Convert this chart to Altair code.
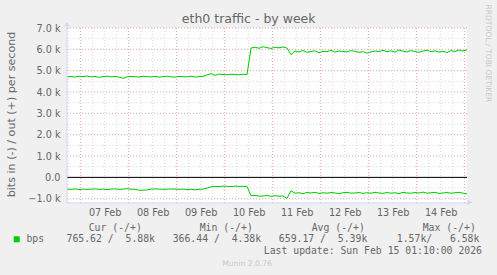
import altair as alt
import pandas as pd

# ---- data (kbit/s), one sample every 2 hours from Feb 6 17:10 to Feb 15 01:10 ----
out_k = [
    4.71, 4.73, 4.70, 4.74, 4.72, 4.75, 4.71, 4.73, 4.69, 4.72,
    4.74, 4.71, 4.73, 4.70, 4.64, 4.71, 4.73, 4.72, 4.70, 4.74,
    4.72, 4.71, 4.73, 4.70, 4.72, 4.74, 4.71, 4.70, 4.73, 4.72,
    4.71, 4.74, 4.70, 4.72, 4.73,
    4.80, 4.86, 4.78, 4.84, 4.82, 4.81, 4.83, 4.82, 4.81, 4.83, 4.82,
    6.06, 6.10, 6.05, 6.12, 6.08, 6.04, 6.10, 6.07, 6.11, 6.06,
    5.75,
    5.92, 5.88, 5.95, 5.86, 5.90, 5.93, 5.84, 5.91, 5.89, 5.96,
    5.87, 5.92, 5.90, 5.88, 5.94, 5.91, 5.86, 5.89, 5.82, 5.88,
    5.92, 5.90, 5.95, 5.89, 5.93, 5.87, 5.97, 5.91, 5.88, 5.94,
    5.90, 5.86, 5.92, 5.96, 5.89, 5.93, 5.87, 5.91, 5.85, 5.94,
    5.90, 5.97, 5.92, 5.98,
]
in_k = [
    0.55, 0.56, 0.54, 0.57, 0.55, 0.56, 0.55, 0.54, 0.56, 0.55,
    0.57, 0.55, 0.54, 0.56, 0.55, 0.53, 0.55, 0.56, 0.60, 0.60,
    0.59, 0.55, 0.54, 0.55, 0.56, 0.55, 0.54, 0.55, 0.56, 0.55,
    0.57, 0.56, 0.58, 0.56, 0.55,
    0.50, 0.44, 0.42, 0.43, 0.41, 0.42, 0.43, 0.41, 0.42, 0.42, 0.42,
    0.86, 0.84, 0.88, 0.87, 0.85, 0.89, 0.86, 0.88, 0.87, 0.98,
    0.63,
    0.74, 0.72, 0.76, 0.71, 0.73, 0.70, 0.75, 0.72, 0.74, 0.71,
    0.73, 0.76, 0.72, 0.70, 0.74, 0.73, 0.71, 0.75, 0.72, 0.74,
    0.70, 0.73, 0.75, 0.71, 0.74, 0.72, 0.76, 0.70, 0.73, 0.74,
    0.71, 0.73, 0.69, 0.74, 0.72, 0.70, 0.75, 0.73, 0.71, 0.74,
    0.72, 0.70, 0.74, 0.77,
]
day_labels = [7, 8, 9, 10, 11, 12, 13, 14]
y_ticks = [-1000, 0, 1000, 2000, 3000, 4000, 5000, 6000, 7000]
legend_headers = ["Cur (-/+)", "Min (-/+)", "Avg (-/+)", "Max (-/+)"]
legend_row = "765.62 /  5.88k   366.44 /  4.38k   659.17 /  5.39k     1.57k/   6.58k"
last_update = "Last update: Sun Feb 15 01:10:00 2026"

times = pd.date_range("2026-02-06 17:10", periods=len(out_k), freq="2h")
tstr = list(times.strftime("%Y-%m-%dT%H:%M:%SZ"))
df = pd.DataFrame({
    "t": tstr * 2,
    "v": [v * 1000 for v in out_k] + [-v * 1000 for v in in_k],
    "s": ["out"] * len(out_k) + ["in"] * len(in_k),
})

vg = pd.date_range("2026-02-06 18:00", "2026-02-15 00:00", freq="6h")
vgrid = pd.DataFrame({"t": list(vg.strftime("%Y-%m-%dT%H:%M:%SZ")),
                      "major": [h == 0 for h in vg.hour]})
hvals = list(range(-1000, 7001, 500))
hgrid = pd.DataFrame({"v": hvals, "major": [v % 1000 == 0 for v in hvals]})
zero = pd.DataFrame({"v": [0]})

FONT = "DejaVu Sans"
MONO = "DejaVu Sans Mono"
TXT = "#666666"
AXISC = "#CFD6F8"
NB = "\u00a0"

xscale = alt.Scale(type="utc", domain=[
    alt.DateTime(year=2026, month=2, date=6, hours=17, minutes=10, utc=True),
    alt.DateTime(year=2026, month=2, date=15, hours=1, minutes=10, utc=True)])
yscale = alt.Scale(domain=[-1200, 7000], nice=False, zero=False)

xaxis = alt.Axis(values=[alt.DateTime(year=2026, month=2, date=d, hours=12, utc=True) for d in day_labels],
                 labelExpr="utcFormat(datum.value, '%d %b')", labelFont=FONT, labelFontSize=9.7,
                 labelColor=TXT, labelPadding=4, ticks=False, domain=False, grid=False,
                 labelFlush=False, labelOverlap=False)
yaxis = alt.Axis(values=y_ticks,
                 labelExpr="datum.value == 0 ? '0.0' : format(datum.value/1000, '.1f') + ' k'",
                 labelFont=FONT, labelFontSize=9.7, labelColor=TXT, labelPadding=7,
                 ticks=False, domain=False, grid=False)

X = alt.X("t:T", scale=xscale, axis=xaxis, title=None)
Y = alt.Y("v:Q", scale=yscale, axis=yaxis, title=None)

minor_v = alt.Chart(vgrid).transform_filter("!datum.major").mark_rule(
    color="#DADADA", strokeDash=[1, 2], strokeWidth=1).encode(x=X)
major_v = alt.Chart(vgrid).transform_filter("datum.major").mark_rule(
    color="#EBA0A0", strokeDash=[1, 2], strokeWidth=1).encode(x=X)
minor_h = alt.Chart(hgrid).transform_filter("!datum.major").mark_rule(
    color="#DADADA", strokeDash=[1, 2], strokeWidth=1).encode(y=Y)
major_h = alt.Chart(hgrid).transform_filter("datum.major").mark_rule(
    color="#EBA0A0", strokeDash=[1, 2], strokeWidth=1).encode(y=Y)
zero_line = alt.Chart(zero).mark_rule(color="#000000", strokeWidth=1).encode(y=Y)

lines = alt.Chart(df).mark_line(color="#00CC00", strokeWidth=1).encode(
    x=X, y=Y, detail="s:N", order="t:T")

one = pd.DataFrame({"a": [0]})
axis_left = alt.Chart(one).mark_rule(color=AXISC, strokeWidth=1).encode(
    x=alt.value(0), y=alt.value(-4), y2=alt.value(175))
axis_bottom = alt.Chart(one).mark_rule(color=AXISC, strokeWidth=1).encode(
    x=alt.value(0), x2=alt.value(403), y=alt.value(175))
arrow_up = alt.Chart(one).mark_point(shape="triangle-up", filled=True, size=30,
                                     color=AXISC, opacity=1).encode(
    x=alt.value(0), y=alt.value(-4))
arrow_right = alt.Chart(one).mark_point(shape="triangle-right", filled=True, size=30,
                                        color=AXISC, opacity=1).encode(
    x=alt.value(403), y=alt.value(174.5))


def label(text, x, y, size=9.7, font=FONT, color=TXT, align="left", angle=0):
    return alt.Chart(one).mark_text(font=font, fontSize=size, color=color, align=align,
                                    baseline="middle", angle=angle).encode(
        x=alt.value(x), y=alt.value(y), text=alt.value(text.replace(" ", NB)))


texts = [
    label("eth0 traffic - by week", 181.7, -8.7, size=12.5, align="center"),
    label("bits in (-) / out (+) per second", -55, 86.5, size=11.1, align="center", angle=270),
    label("RRDTOOL / TOBI OETIKER", 420.7, 25.3, size=7.6, color="#C8C8C8", align="center", angle=90),
    label(legend_headers[0], 21.7, 199.7, font=MONO, size=9.8),
    label(legend_headers[1], 132.7, 199.7, font=MONO, size=9.8),
    label(legend_headers[2], 244.7, 199.7, font=MONO, size=9.8),
    label(legend_headers[3], 355.7, 199.7, font=MONO, size=9.8),
    label("bps", -40.6, 211.3, font=MONO, size=9.8),
    label(legend_row, -0.5, 211.3, font=MONO, size=9.8),
    label(last_update, 415, 223, font=MONO, size=9.8, align="right"),
    label("Munin 2.0.76", 180, 235.5, size=7.6, color="#C8C8C8", align="center"),
]
swatch = alt.Chart(one).mark_point(shape="square", filled=True, size=36,
                                   color="#00CC00", opacity=1).encode(
    x=alt.value(-50.3), y=alt.value(211.3))

chart = alt.layer(minor_v, major_v, minor_h, major_h, zero_line, lines,
                  axis_left, axis_bottom, arrow_up, arrow_right, swatch, *texts).properties(
    width=400, height=175,
    padding={"left": 67, "top": 28, "right": 30, "bottom": 72},
    autosize="none",
).configure(background="#F0F0F0").configure_view(fill="#FFFFFF", stroke=None)

chart.save("out.html", embed_options={"renderer": "svg", "actions": False})
